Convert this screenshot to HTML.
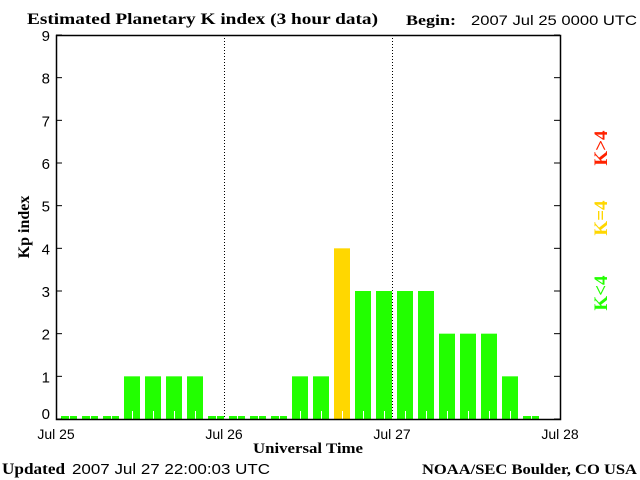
<!DOCTYPE html>
<html><head><meta charset="utf-8"><style>
body{margin:0;background:#fff;}
svg{display:block;}
</style></head><body>
<svg width="640" height="480" xmlns="http://www.w3.org/2000/svg">
<text x="27" y="24" textLength="351" lengthAdjust="spacingAndGlyphs" font-family="Liberation Serif, serif" font-weight="bold" font-size="16">Estimated Planetary K index (3 hour data)</text>
<text x="406" y="25" textLength="50" lengthAdjust="spacingAndGlyphs" font-family="Liberation Serif, serif" font-weight="bold" font-size="15">Begin:</text>
<text x="471" y="25" textLength="166" lengthAdjust="spacingAndGlyphs" font-family="Liberation Sans, sans-serif" font-size="14">2007 Jul 25 0000 UTC</text>
<g id="plot"></g>
<text x="29" y="227" transform="rotate(-90 29 227)" text-anchor="middle" font-family="Liberation Serif, serif" font-weight="bold" font-size="16">Kp index</text>
<text x="253" y="453" textLength="110" lengthAdjust="spacingAndGlyphs" font-family="Liberation Serif, serif" font-weight="bold" font-size="15">Universal Time</text>
<text x="2" y="474" textLength="63" lengthAdjust="spacingAndGlyphs" font-family="Liberation Serif, serif" font-weight="bold" font-size="16">Updated</text>
<text x="72" y="474" textLength="198" lengthAdjust="spacingAndGlyphs" font-family="Liberation Sans, sans-serif" font-size="15">2007 Jul 27 22:00:03 UTC</text>
<text x="422" y="474" textLength="215" lengthAdjust="spacingAndGlyphs" font-family="Liberation Serif, serif" font-weight="bold" font-size="15">NOAA/SEC Boulder, CO USA</text>
<text x="607" y="148" transform="rotate(-90 607 148)" text-anchor="middle" fill="#ff2200" font-family="Liberation Serif, serif" font-weight="bold" font-size="19">K&gt;4</text>
<text x="607" y="218" transform="rotate(-90 607 218)" text-anchor="middle" fill="#ffd700" font-family="Liberation Serif, serif" font-weight="bold" font-size="19">K=4</text>
<text x="607" y="293" transform="rotate(-90 607 293)" text-anchor="middle" fill="#22ff00" font-family="Liberation Serif, serif" font-weight="bold" font-size="19">K&lt;4</text>
</svg>
<script>
const kpValues=[0,0,0,1,1,1,1,0, 0,0,0,1,1,4,3,3, 3,3,2,2,2,1,0];
const yTicks=[0,1,2,3,4,5,6,7,8,9];
const dayLabels=["Jul 25","Jul 26","Jul 27","Jul 28"];
const NS="http://www.w3.org/2000/svg";
const L=56,R=560,T=35,B=419;
const slotW=(R-L)/24;
function yPos(v){return B-(B-T)*v/9;}
function xDay(d){return L+(R-L)*d/3;}
const g=document.getElementById('plot');
function mk(tag,attrs){const e=document.createElementNS(NS,tag);for(const k in attrs)e.setAttribute(k,attrs[k]);g.appendChild(e);return e;}
kpValues.forEach((v,i)=>{
  const x=L+slotW*i+5;
  const top=v===0?B-3:yPos(v);
  const col=v>4?'#ff2200':(v===4?'#ffd700':'#22ff00');
  const r=mk('rect',{x:x,y:top,width:16,height:B-top,fill:col});
  
  
  const t=mk('line',{x1:x+8.5,x2:x+8.5,y1:B-(v===0?3:8),y2:B,stroke:'#fff','stroke-width':1});
  
  
});
[1,2].forEach(d=>{
  const l=mk('line',{x1:xDay(d)+0.5,x2:xDay(d)+0.5,y1:T,y2:B,stroke:'#000','stroke-dasharray':'1,2'});
  
  
});
const box=mk('rect',{x:L+0.5,y:T+0.5,width:R-L,height:B-T,fill:'none',stroke:'#000','stroke-width':1.5});


yTicks.forEach(v=>{
  const y=yPos(v);
  const a=mk('line',{x1:L,x2:L+6,y1:y,y2:y,stroke:'#000'});
  
  
  const b=mk('line',{x1:R-6,x2:R,y1:y,y2:y,stroke:'#000'});
  
  
  const t=mk('text',{x:50,y:(v===0?y:y+6),'text-anchor':'end','font-family':'Liberation Sans, sans-serif','font-size':15});
  t.textContent=v;
  
  
});
dayLabels.forEach((s,d)=>{
  const t=mk('text',{x:xDay(d),y:439,'text-anchor':'middle','font-family':'Liberation Sans, sans-serif','font-size':14});
  t.textContent=s;
  
  
});
</script>
</body></html>
